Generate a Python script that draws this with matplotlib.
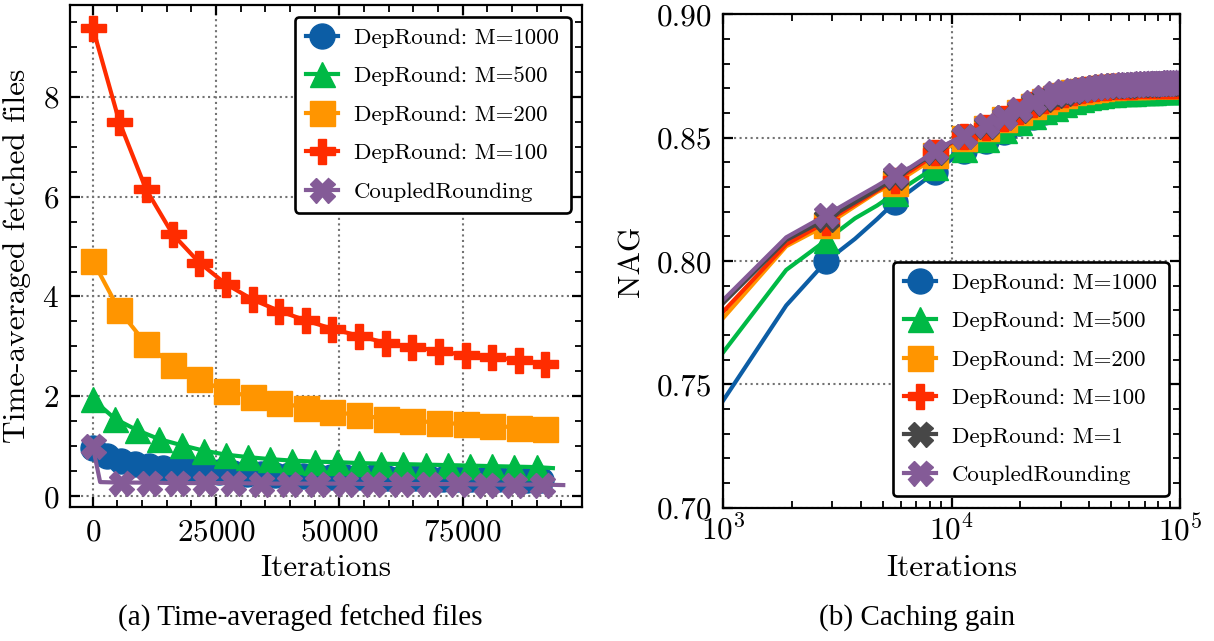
import matplotlib
matplotlib.use("Agg")
import matplotlib.pyplot as plt
from matplotlib.ticker import MultipleLocator, LogLocator, NullFormatter

# ---- (a) time-averaged fetched files ----
iters_a_step54 = [0, 5400, 10800, 16200, 21600, 27000, 32400, 37800, 43200, 48600,
                  54000, 59400, 64800, 70200, 75600, 81000, 86400, 91800]
fetched_m100 = [9.39, 7.50, 6.15, 5.25, 4.68, 4.25, 3.94, 3.71, 3.52, 3.35,
                3.21, 3.07, 2.99, 2.91, 2.82, 2.79, 2.72, 2.65]
fetched_m200 = [4.72, 3.72, 3.05, 2.62, 2.34, 2.10, 1.99, 1.87, 1.77, 1.69,
                1.62, 1.55, 1.51, 1.47, 1.44, 1.41, 1.37, 1.34]

iters_a_m500 = [0, 4500, 9000, 13500, 18000, 22500, 27000, 31500, 36000, 40500,
                45000, 49500, 54000, 58500, 63000, 67500, 72000, 76500, 81000,
                85500, 90000, 93300]
fetched_m500 = [1.94, 1.55, 1.32, 1.14, 1.02, 0.91, 0.83, 0.78, 0.74, 0.71,
                0.69, 0.68, 0.66, 0.65, 0.64, 0.63, 0.62, 0.61, 0.60, 0.59,
                0.58, 0.56]

iters_a_m1000 = [0, 2840, 5680, 8520, 11360, 14200, 17040, 19880, 22720, 25560,
                 28400, 31240, 34080, 36920, 39760, 42600, 45440, 48280, 51120,
                 53960, 56800, 59640, 62480, 65320, 68160, 71000, 73840, 76680,
                 79520, 82360, 85200, 88040, 90880]
fetched_m1000 = [0.96, 0.80, 0.71, 0.65, 0.60, 0.57, 0.54, 0.52, 0.50, 0.48,
                 0.46, 0.45, 0.44, 0.43, 0.42, 0.41, 0.40, 0.39, 0.39, 0.38,
                 0.38, 0.37, 0.37, 0.36, 0.36, 0.35, 0.35, 0.35, 0.34, 0.34,
                 0.34, 0.33, 0.33]

iters_a_cr = [0, 1500, 5690, 11380, 17070, 22760, 28450, 34140, 39830, 45520,
              51210, 56900, 62590, 68280, 73970, 79660, 85350, 91040, 95400]
fetched_cr = [1.00, 0.28, 0.27, 0.27, 0.26, 0.26, 0.26, 0.25, 0.25, 0.25,
              0.25, 0.24, 0.24, 0.24, 0.24, 0.23, 0.23, 0.23, 0.22]

# ---- (b) caching gain ----
iters_b = [943, 1886, 2829, 3772, 4715, 5658, 6601, 7544, 8487, 9430, 10373, 11316,
           14145, 16974, 19803, 22632, 25461, 28290, 31119, 33948, 36777, 39606,
           42435, 45264, 48093, 50922, 53751, 56580, 59409, 62238, 65067, 67896,
           70725, 73554, 76383, 79212, 82041, 84870, 87699, 90528, 93357, 96186, 99015]
nag_m1000 = [0.740, 0.782, 0.800, 0.809, 0.817, 0.824, 0.8285, 0.8325, 0.836, 0.8395,
             0.8422, 0.8445, 0.8485, 0.8525, 0.8558, 0.8585, 0.8605, 0.862, 0.8635,
             0.8647, 0.8656, 0.8663, 0.8668, 0.8672, 0.8675, 0.8677, 0.8679, 0.868,
             0.8681, 0.8682, 0.8683, 0.8684, 0.8685, 0.8686, 0.8686, 0.8687, 0.8687,
             0.8688, 0.8688, 0.8689, 0.8689, 0.869, 0.869]
nag_m500 = [0.760, 0.7964, 0.8085, 0.8173, 0.8225, 0.8275, 0.8315, 0.835, 0.8383, 0.841,
            0.8435, 0.8455, 0.8495, 0.8532, 0.8563, 0.8588, 0.8607, 0.8622, 0.8636,
            0.8648, 0.8657, 0.8664, 0.8669, 0.8673, 0.8676, 0.8678, 0.868, 0.8681,
            0.8682, 0.8683, 0.8684, 0.8685, 0.8686, 0.8687, 0.8687, 0.8688, 0.8688,
            0.8689, 0.8689, 0.869, 0.869, 0.8691, 0.8691]
nag_m200 = [0.7743, 0.806, 0.8146, 0.8222, 0.828, 0.8315, 0.8355, 0.839, 0.843, 0.8455,
            0.848, 0.850, 0.854, 0.8575, 0.8605, 0.863, 0.8648, 0.8662, 0.8674,
            0.8684, 0.869, 0.8695, 0.8699, 0.8703, 0.8706, 0.8707, 0.8708, 0.8709,
            0.871, 0.871, 0.8711, 0.8711, 0.8712, 0.8712, 0.8712, 0.8713, 0.8713,
            0.8713, 0.8714, 0.8714, 0.8714, 0.8714, 0.8715]
nag_m100 = [0.777, 0.8068, 0.8159, 0.823, 0.8285, 0.8329, 0.8365, 0.840, 0.8443, 0.8465,
            0.8488, 0.8505, 0.8545, 0.858, 0.861, 0.8635, 0.8653, 0.8667, 0.8678,
            0.8687, 0.8693, 0.8698, 0.8702, 0.8705, 0.8707, 0.8708, 0.8709, 0.871,
            0.8711, 0.8711, 0.8712, 0.8712, 0.8713, 0.8713, 0.8713, 0.8714, 0.8714,
            0.8714, 0.8715, 0.8715, 0.8715, 0.8715, 0.8716]
nag_m1 = [0.7806, 0.8085, 0.817, 0.8238, 0.829, 0.834, 0.8375, 0.841, 0.8443, 0.847,
          0.849, 0.8505, 0.8548, 0.8583, 0.8613, 0.864, 0.8658, 0.8672, 0.8682,
          0.869, 0.8696, 0.8701, 0.8705, 0.8708, 0.871, 0.8712, 0.8713, 0.8714,
          0.8715, 0.8716, 0.8717, 0.8718, 0.8718, 0.8719, 0.8719, 0.872, 0.872,
          0.8721, 0.8721, 0.8721, 0.8722, 0.8722, 0.8722]
nag_cr = [0.7819, 0.8096, 0.8187, 0.8254, 0.8305, 0.8349, 0.838, 0.8415, 0.8445, 0.8472,
          0.8492, 0.8506, 0.855, 0.8585, 0.8615, 0.8645, 0.8665, 0.868, 0.8688,
          0.8694, 0.8699, 0.8703, 0.8707, 0.871, 0.8712, 0.8714, 0.8715, 0.8716,
          0.8717, 0.8718, 0.8719, 0.872, 0.872, 0.8721, 0.8721, 0.8722, 0.8722,
          0.8723, 0.8723, 0.8724, 0.8724, 0.8725, 0.8725]

labels = ["DepRound: M=1000", "DepRound: M=500", "DepRound: M=200",
          "DepRound: M=100", "DepRound: M=1", "CoupledRounding"]
colors = ["#0C5DA5", "#00B945", "#FF9500", "#FF2C00", "#474747", "#845B97"]
markers = ["o", "^", "s", "P", "X", "X"]

plt.rcParams.update({
    "font.family": "cmr10",
    "mathtext.fontset": "cm",
    "axes.formatter.use_mathtext": True,
    "axes.unicode_minus": False,
})


def style_axes(ax):
    ax.tick_params(which="both", direction="in", top=True, right=True, labelsize=22.5)
    ax.tick_params(which="major", length=7, width=1.6, pad=8)
    ax.tick_params(which="minor", length=5, width=1.3)
    ax.grid(True, which="major", linestyle=":", color="0.45", linewidth=1.5)
    for s in ax.spines.values():
        s.set_linewidth(1.6)


def add_legend(ax, loc):
    leg = ax.legend(loc=loc, fontsize=16.5, frameon=True, edgecolor="black",
                    framealpha=1, fancybox=True, handlelength=1.4,
                    labelspacing=0.8, numpoints=1, borderpad=0.5,
                    handletextpad=0.7)
    leg.get_frame().set_linewidth(1.9)
    return leg


fig = plt.figure(figsize=(12.14, 6.41), dpi=100)
ax1 = fig.add_axes([0.0577, 0.209, 0.4217, 0.783])
ax2 = fig.add_axes([0.5958, 0.2078, 0.3762, 0.7699])

ms = 18
lw = 3

# left panel
ax1.plot(iters_a_m1000, fetched_m1000, color=colors[0], marker=markers[0], ms=ms, lw=lw,
         label=labels[0])
ax1.plot(iters_a_m500, fetched_m500, color=colors[1], marker=markers[1], ms=ms, lw=lw,
         markevery=list(range(len(iters_a_m500) - 1)), label=labels[1])
ax1.plot(iters_a_step54, fetched_m200, color=colors[2], marker=markers[2], ms=ms, lw=lw,
         label=labels[2])
ax1.plot(iters_a_step54, fetched_m100, color=colors[3], marker=markers[3], ms=ms, lw=lw,
         label=labels[3])
cr_marks = [0] + list(range(2, len(iters_a_cr) - 1))
ax1.plot(iters_a_cr, fetched_cr, color=colors[5], marker=markers[5], ms=ms, lw=lw,
         markevery=cr_marks, label=labels[5])

ax1.set_xlim(-4600, 99200)
ax1.set_ylim(-0.22, 9.84)
ax1.xaxis.set_major_locator(MultipleLocator(25000))
ax1.xaxis.set_minor_locator(MultipleLocator(5000))
ax1.yaxis.set_major_locator(MultipleLocator(2))
ax1.yaxis.set_minor_locator(MultipleLocator(0.5))
style_axes(ax1)
ax1.set_xlabel("Iterations", fontsize=22.5, labelpad=6)
ax1.set_ylabel("Time-averaged fetched files", fontsize=22.5, labelpad=8)
add_legend(ax1, "upper right")

# right panel
b_marks = [i for i, x in enumerate(iters_b) if round(x / 943) % 3 == 0]
nag_series = [nag_m1000, nag_m500, nag_m200, nag_m100, nag_m1, nag_cr]
for vals, c, m, lab in zip(nag_series, colors, markers, labels):
    ax2.plot(iters_b, vals, color=c, marker=m, ms=ms, lw=lw, markevery=b_marks, label=lab)

ax2.set_xscale("log")
ax2.set_xlim(1e3, 1e5)
ax2.set_ylim(0.70, 0.90)
ax2.xaxis.set_major_locator(LogLocator(base=10))
ax2.xaxis.set_minor_locator(LogLocator(base=10, subs=range(2, 10)))
ax2.xaxis.set_minor_formatter(NullFormatter())
ax2.yaxis.set_major_locator(MultipleLocator(0.05))
ax2.yaxis.set_minor_locator(MultipleLocator(0.01))
ax2.yaxis.set_major_formatter(plt.FormatStrFormatter("%.2f"))
style_axes(ax2)
ax2.tick_params(axis="x", which="major", pad=4)
ax2.set_xlabel("Iterations", fontsize=22.5, labelpad=6)
ax2.set_ylabel("NAG", fontsize=22.5, labelpad=8)
add_legend(ax2, "lower right")

fig.text(0.247, 0.036, "(a) Time-averaged fetched files", ha="center", va="center",
         fontsize=21, family="Liberation Serif")
fig.text(0.755, 0.036, "(b) Caching gain", ha="center", va="center",
         fontsize=21, family="Liberation Serif")

fig.savefig("out.png", dpi=100)
